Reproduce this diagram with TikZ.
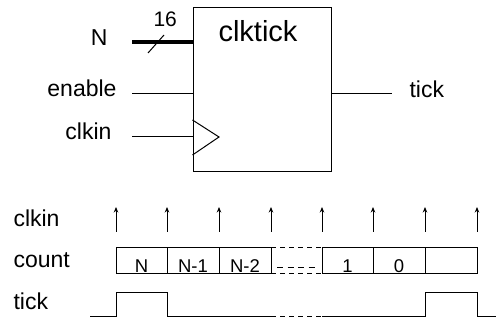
\documentclass[tikz,border=0pt]{standalone}
\usepackage{fontspec}
\setmainfont{Liberation Sans}
\usetikzlibrary{arrows.meta}
\begin{document}
\begin{tikzpicture}[x=1pt,y=-1pt,line width=1pt,
  lbl/.style={font=\fontsize{23}{27}\selectfont, inner sep=0pt},
  cell/.style={font=\fontsize{18.5}{22}\selectfont, inner sep=0pt, anchor=base},
  clk/.style={-{Stealth[length=5.5pt,width=4.5pt]}},
  dsh/.style={dash pattern=on 5pt off 4pt}]
\useasboundingbox (0,0) rectangle (496,320);
% module box
\node[draw, minimum width=138pt, minimum height=164pt, inner sep=0pt] (box) at (262,90) {};
\node[font=\fontsize{29}{33}\selectfont, anchor=base, inner sep=0pt] (title) at (258,42) {clktick};
% inputs
\coordinate (nin) at (132,42);
\coordinate (enin) at (132,94);
\coordinate (ckin) at (132,137);
\coordinate (tkout) at (392,94);
\draw[line width=4pt] (nin) -- (box.west |- nin);
\coordinate (s1) at (148,53);
\coordinate (s2) at (164,35);
\draw (s1) -- (s2);
\node[font=\fontsize{21}{25}\selectfont, anchor=base west, inner sep=0pt] (w16) at (153,27) {16};
\draw (enin) -- (box.west |- enin);
\draw (ckin) -- (box.west |- ckin);
\draw (box.west |- 0,120) -- (219,137) -- (box.west |- 0,155);
\draw (box.east |- tkout) -- (tkout);
\node[lbl, anchor=base east] (lN) at (108,46) {N};
\node[lbl, anchor=base east] (lenable) at (117,97) {enable};
\node[lbl, anchor=base east] (lclkin) at (112,140) {clkin};
\node[lbl, anchor=base west] (ltick) at (409,98) {tick};
% timing labels
\node[lbl, anchor=base west] (tclkin) at (13,227) {clkin};
\node[lbl, anchor=base west] (tcount) at (13,268) {count};
\node[lbl, anchor=base west] (ttick) at (13,310) {tick};
% clock edges
\foreach \x [count=\i] in {116,167,219,271,322,373,425,477} {
  \coordinate (cb\i) at (\x,232);
  \coordinate (ct\i) at (\x,207);
  \draw[clk] (cb\i) -- (ct\i);
}
% count cells
\foreach \a/\b in {116/167,167/219,219/271,322/373,373/425,425/477} {
  \draw (\a,248) rectangle (\b,274);
}
\draw[dsh] (271,248) -- (322,248);
\draw[dsh] (271,274) -- (322,274);
\draw[dash pattern=on 6pt off 4.5pt] (277,268) -- (318,268);
\node[cell] (cN) at (141.5,272.5) {N};
\node[cell] (cN1) at (193,272.5) {N-1};
\node[cell] (cN2) at (245,272.5) {N-2};
\node[cell] (c1) at (347.5,272.5) {1};
\node[cell] (c0) at (399,272.5) {0};
% tick waveform
\draw (90,317) -- (116,317) -- (116,293) -- (167,293) -- (167,317) -- (271,317);
\draw[dsh] (271,317) -- (322,317);
\draw (322,317) -- (425,317) -- (425,293) -- (477,293) -- (477,317) -- (496,317);
\end{tikzpicture}
\end{document}
